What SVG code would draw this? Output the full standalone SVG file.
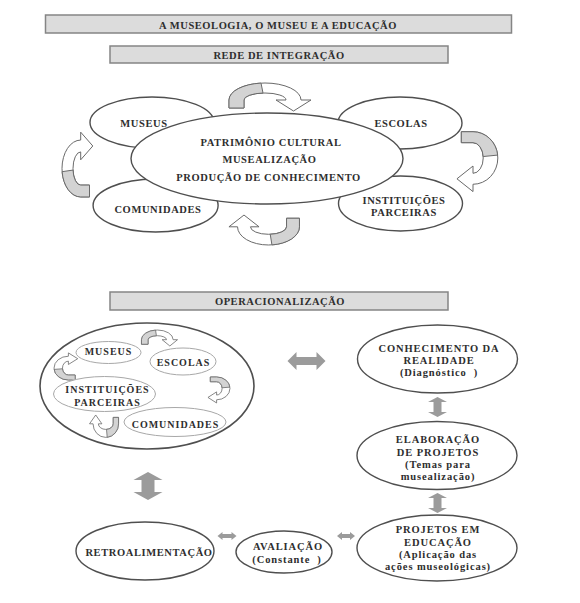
<svg xmlns="http://www.w3.org/2000/svg" xmlns:xlink="http://www.w3.org/1999/xlink" width="580" height="603" viewBox="0 0 580 603">
<style>
.bg{fill:#ffffff}
.box{fill:#dcdcdc;stroke:#858585;stroke-width:1.5}
.hd{font-family:"Liberation Serif","DejaVu Serif",serif;font-weight:bold;font-size:10.5px;letter-spacing:0.55px;fill:#2e2e2e;text-anchor:middle}
.node{fill:#ffffff;stroke:#4f4f4f;stroke-width:1.4}
.inner{fill:#ffffff;stroke:#a8a8a8;stroke-width:1}
.t{font-family:"Liberation Serif","DejaVu Serif",serif;font-weight:bold;font-size:10.5px;letter-spacing:0.6px;fill:#2e2e2e;text-anchor:middle}
.tb{font-family:"Liberation Serif","DejaVu Serif",serif;font-weight:bold;font-size:10.5px;letter-spacing:0.9px;fill:#2e2e2e;text-anchor:middle}
.ti{font-family:"Liberation Serif","DejaVu Serif",serif;font-weight:bold;font-size:10px;letter-spacing:1px;fill:#2e2e2e;text-anchor:middle}
.ca-body{fill:#ffffff;stroke:#6a6a6a;vector-effect:non-scaling-stroke}
.ca-shade{fill:#d3d3d3;stroke:#6a6a6a;vector-effect:non-scaling-stroke}
.ca{stroke-width:1}
.cas{stroke-width:0.8}
.blk{fill:#9b9b9b}
</style>
<defs>
<g id="carrow">
<path class="ca-body" d="M-36,8 L-36,0 A36,17 0 0 1 36,0 L46,0 L28.5,11 L11,0 L21,0 A21,7 0 0 0 -21,0 L-21,8 Z"/>
<path class="ca-shade" d="M-36,8 L-36,0 A36,17 0 0 1 -4,-16.9 L-2,-7 A21,7 0 0 0 -21,0 L-21,8 Z"/>
</g>
</defs>
<rect class="bg" x="0" y="0" width="580" height="603"/>

<g id="title-main"><rect class="box" x="45.5" y="15" width="466" height="18"/><text class="hd" x="278" y="28.5">A MUSEOLOGIA, O MUSEU E A EDUCAÇÃO</text></g>
<g id="title-rede"><rect class="box" x="110" y="46" width="338" height="17"/><text class="hd" x="279" y="58.5">REDE DE INTEGRAÇÃO</text></g>
<g id="title-oper"><rect class="box" x="110" y="292" width="338" height="18"/><text class="hd" x="280" y="304.5">OPERACIONALIZAÇÃO</text></g>

<g id="op-rede"><ellipse class="node" cx="147" cy="386" rx="107" ry="63" style="stroke-width:1.6"/></g>

<g id="connectors">
<use xlink:href="#carrow" class="ca" transform="translate(265,100)"/>
<use xlink:href="#carrow" class="ca" transform="translate(473,158) rotate(90) scale(0.73,1.46)"/>
<use xlink:href="#carrow" class="ca" transform="translate(268.5,226.8) rotate(180) scale(0.86,1.07)"/>
<use xlink:href="#carrow" class="ca" transform="translate(80.7,168.5) rotate(-90) scale(0.79,1.1)"/>
<use xlink:href="#carrow" class="cas" transform="translate(157.3,339.7) scale(0.44,0.57)"/>
<use xlink:href="#carrow" class="cas" transform="translate(216.6,388.4) rotate(90) scale(0.317,0.786)"/>
<use xlink:href="#carrow" class="cas" transform="translate(105.8,423.8) rotate(180) scale(0.354,0.8)"/>
<use xlink:href="#carrow" class="cas" transform="translate(68.4,368.1) rotate(-90) scale(0.33,0.846)"/>
<polygon class="blk" points="287.5,361 296.5,352 296.5,357 316.5,357 316.5,352 325.5,361 316.5,370 316.5,365 296.5,365 296.5,370"/>
<polygon class="blk" points="437.5,397 447,402 441.5,402 441.5,412 447,412 437.5,417 428,412 433.5,412 433.5,402 428,402"/>
<polygon class="blk" points="437.5,493 447,498 441.5,498 441.5,508 447,508 437.5,513 428,508 433.5,508 433.5,498 428,498"/>
<polygon class="blk" points="148,472 162.5,480 154.5,480 154.5,492 162.5,492 148,500 133.5,492 141.5,492 141.5,480 133.5,480"/>
<polygon class="blk" points="217.5,536 222.5,532 222.5,534 231.5,534 231.5,532 236.5,536 231.5,540 231.5,538 222.5,538 222.5,540"/>
<polygon class="blk" points="337,536 342,532 342,534 350,534 350,532 355,536 350,540 350,538 342,538 342,540"/>
</g>

<g id="n-museus"><ellipse class="node" cx="152" cy="122.5" rx="62" ry="25.5"/><text class="t" x="144" y="127">MUSEUS</text></g>
<g id="n-escolas"><ellipse class="node" cx="400" cy="123" rx="62" ry="26"/><text class="t" x="401" y="127">ESCOLAS</text></g>
<g id="n-comunidades"><ellipse class="node" cx="155.6" cy="205.5" rx="62.5" ry="26.5"/><text class="t" x="158" y="213">COMUNIDADES</text></g>
<g id="n-instituicoes"><ellipse class="node" cx="400.5" cy="203.5" rx="62" ry="27.5"/><text class="t" x="404" y="204">INSTITUIÇÕES</text><text class="t" x="404" y="216">PARCEIRAS</text></g>
<g id="n-centro"><ellipse class="node" cx="267" cy="158.5" rx="136" ry="45.5"/><text class="t" x="271" y="146">PATRIMÔNIO CULTURAL</text><text class="t" x="269.5" y="163">MUSEALIZAÇÃO</text><text class="t" x="268.6" y="181">PRODUÇÃO DE CONHECIMENTO</text></g>

<g id="op-museus"><ellipse class="inner" cx="108.5" cy="352.5" rx="32.5" ry="11"/><text class="ti" x="108.5" y="354.5">MUSEUS</text></g>
<g id="op-escolas"><ellipse class="inner" cx="183" cy="361.5" rx="33" ry="13.5"/><text class="ti" x="183.5" y="365.5">ESCOLAS</text></g>
<g id="op-instituicoes"><ellipse class="inner" cx="104.5" cy="394" rx="51" ry="17.5"/><text class="ti" x="107.5" y="392.5">INSTITUIÇÕES</text><text class="ti" x="107.5" y="405.5">PARCEIRAS</text></g>
<g id="op-comunidades"><ellipse class="inner" cx="175" cy="422" rx="51" ry="14.5"/><text class="ti" x="175.5" y="427.5">COMUNIDADES</text></g>

<g id="n-conhecimento"><ellipse class="node" cx="437.5" cy="359" rx="80" ry="34"/><text class="tb" x="439" y="352">CONHECIMENTO DA</text><text class="tb" x="439" y="364">REALIDADE</text><text class="tb" x="439" y="376">(Diagnóstico &#160;)</text></g>
<g id="n-elaboracao"><ellipse class="node" cx="437" cy="455.5" rx="80" ry="34"/><text class="tb" x="438" y="443">ELABORAÇÃO</text><text class="tb" x="438" y="455.5">DE PROJETOS</text><text class="tb" x="438" y="468">(Temas para</text><text class="tb" x="438" y="480">musealização)</text></g>
<g id="n-projetos"><ellipse class="node" cx="437" cy="548" rx="80" ry="33"/><text class="tb" x="438" y="533">PROJETOS EM</text><text class="tb" x="438" y="545.5">EDUCAÇÃO</text><text class="tb" x="438" y="558">(Aplicação das</text><text class="tb" x="438" y="570">ações museológicas)</text></g>
<g id="n-retro"><ellipse class="node" cx="145" cy="551" rx="69" ry="29"/><text class="tb" x="149" y="556" style="letter-spacing:0.6px">RETROALIMENTAÇÃO</text></g>
<g id="n-avaliacao"><ellipse class="node" cx="284" cy="552" rx="48" ry="21"/><text class="tb" x="288" y="550">AVALIAÇÃO</text><text class="tb" x="287" y="562.5">(Constante &#160;)</text></g>
</svg>
